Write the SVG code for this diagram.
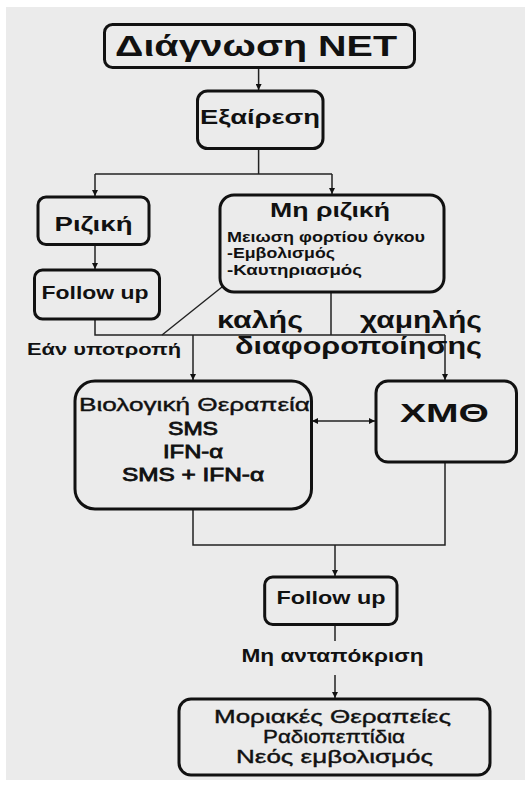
<svg xmlns="http://www.w3.org/2000/svg" width="532" height="787" viewBox="0 0 532 787">
<defs>
<marker id="ah" viewBox="0 0 10 10" refX="10" refY="5" markerWidth="6" markerHeight="6" markerUnits="userSpaceOnUse" orient="auto-start-reverse">
<path d="M0,0 L10,5 L0,10 z" fill="#111"/>
</marker>
<style>
.box{fill:none;stroke:#111;stroke-width:3}
.ln{fill:none;stroke:#222;stroke-width:1.5}
.t{font-family:"Liberation Sans",Arial,sans-serif;fill:#111;font-weight:bold}
.n{font-family:"Liberation Sans",Arial,sans-serif;fill:#111;stroke:#111;stroke-width:0.4}
.m{font-family:"Liberation Sans",Arial,sans-serif;fill:#111;stroke:#111;stroke-width:0.8}
</style>
</defs>
<rect x="0" y="0" width="532" height="787" fill="#ffffff"/>
<rect x="6" y="7" width="519" height="773" fill="#ebebeb"/>

<g id="connectors">
<line class="ln" x1="258.6" y1="67" x2="258.6" y2="90" marker-end="url(#ah)"/>
<polyline class="ln" points="258.6,149 258.6,174"/>
<polyline class="ln" points="95,174 332,174"/>
<line class="ln" x1="95" y1="174" x2="95" y2="196" marker-end="url(#ah)"/>
<line class="ln" x1="332" y1="174" x2="332" y2="194" marker-end="url(#ah)"/>
<line class="ln" x1="95" y1="245" x2="95" y2="269" marker-end="url(#ah)"/>
<polyline class="ln" points="95,319 95,335 445,335"/>
<line class="ln" x1="222" y1="287" x2="162" y2="335"/>
<line class="ln" x1="331" y1="292" x2="331" y2="335"/>
<line class="ln" x1="193" y1="335" x2="193" y2="380" marker-end="url(#ah)"/>
<line class="ln" x1="445" y1="335" x2="445" y2="380" marker-end="url(#ah)"/>
<line class="ln" x1="312" y1="421" x2="375" y2="421" marker-start="url(#ah)" marker-end="url(#ah)"/>
<polyline class="ln" points="193,509 193,545 445,545 445,462"/>
<line class="ln" x1="335" y1="545" x2="335" y2="576" marker-end="url(#ah)"/>
<line class="ln" x1="335" y1="625" x2="335" y2="641"/>
<line class="ln" x1="335" y1="675" x2="335" y2="698" marker-end="url(#ah)"/>
</g>

<g id="n-diagnosis">
<rect class="box" x="104.5" y="24.5" width="310" height="43" rx="8"/>
<text class="t" x="256" y="56" font-size="29" text-anchor="middle" textLength="282" lengthAdjust="spacingAndGlyphs">Διάγνωση NET</text>
</g>

<g id="n-exairesi">
<rect class="box" x="197.5" y="91" width="125.5" height="57.5" rx="10"/>
<text class="t" x="260" y="124" font-size="21" text-anchor="middle" textLength="120" lengthAdjust="spacingAndGlyphs">Εξαίρεση</text>
</g>

<g id="n-riziki">
<rect class="box" x="38" y="197" width="111" height="47.5" rx="8"/>
<text class="t" x="93.5" y="231" font-size="21" text-anchor="middle" textLength="78" lengthAdjust="spacingAndGlyphs">Ριζική</text>
</g>

<g id="n-followup1">
<rect class="box" x="34.5" y="270" width="125" height="49" rx="8"/>
<text class="t" x="95" y="299" font-size="19" text-anchor="middle" textLength="107" lengthAdjust="spacingAndGlyphs">Follow up</text>
</g>

<g id="n-mi-riziki">
<rect class="box" x="220" y="195" width="224" height="97" rx="14"/>
<text class="t" x="330" y="217" font-size="21" text-anchor="middle" textLength="120" lengthAdjust="spacingAndGlyphs">Μη ριζική</text>
<text class="t" x="227" y="242" font-size="14" textLength="198" lengthAdjust="spacingAndGlyphs">Μειωση φορτίου όγκου</text>
<text class="t" x="227" y="258" font-size="14" textLength="108" lengthAdjust="spacingAndGlyphs">-Εμβολισμός</text>
<text class="t" x="227" y="275" font-size="14" textLength="135" lengthAdjust="spacingAndGlyphs">-Καυτηριασμός</text>
</g>

<g id="labels">
<text class="t" x="217" y="328" font-size="23" textLength="86" lengthAdjust="spacingAndGlyphs">καλής</text>
<text class="t" x="360" y="328" font-size="23" textLength="122" lengthAdjust="spacingAndGlyphs">χαμηλής</text>
<text class="t" x="235" y="354" font-size="23" textLength="247" lengthAdjust="spacingAndGlyphs">διαφοροποίησης</text>
<text class="t" x="27" y="355" font-size="16" textLength="154" lengthAdjust="spacingAndGlyphs">Εάν υποτροπή</text>
<text class="t" x="332.5" y="662" font-size="18" text-anchor="middle" textLength="182" lengthAdjust="spacingAndGlyphs">Μη ανταπόκριση</text>
</g>

<g id="n-biologiki">
<rect class="box" x="75" y="381" width="236.5" height="128" rx="20"/>
<text class="n" x="194.5" y="411" font-size="19" text-anchor="middle" textLength="231" lengthAdjust="spacingAndGlyphs">Βιολογική Θεραπεία</text>
<text class="m" x="193" y="435" font-size="18" text-anchor="middle" textLength="50" lengthAdjust="spacingAndGlyphs">SMS</text>
<text class="m" x="193" y="458" font-size="18" text-anchor="middle" textLength="60" lengthAdjust="spacingAndGlyphs">IFN-α</text>
<text class="m" x="193" y="480.5" font-size="18" text-anchor="middle" textLength="142" lengthAdjust="spacingAndGlyphs">SMS + IFN-α</text>
</g>

<g id="n-xmth">
<rect class="box" x="376" y="381" width="140.5" height="81" rx="12"/>
<text class="t" x="444.5" y="422" font-size="26" text-anchor="middle" textLength="89" lengthAdjust="spacingAndGlyphs">ΧΜΘ</text>
</g>

<g id="n-followup2">
<rect class="box" x="264.7" y="577" width="132.3" height="47.5" rx="8"/>
<text class="t" x="331" y="604" font-size="19" text-anchor="middle" textLength="109" lengthAdjust="spacingAndGlyphs">Follow up</text>
</g>

<g id="n-therapies">
<rect class="box" x="179" y="699" width="311" height="76" rx="12"/>
<text class="n" x="332.5" y="723" font-size="19" text-anchor="middle" textLength="237" lengthAdjust="spacingAndGlyphs">Μοριακές Θεραπείες</text>
<text class="n" x="334" y="743" font-size="19" text-anchor="middle" textLength="142" lengthAdjust="spacingAndGlyphs">Ραδιοπεπτίδια</text>
<text class="n" x="334.5" y="763" font-size="19" text-anchor="middle" textLength="197" lengthAdjust="spacingAndGlyphs">Νεός εμβολισμός</text>
</g>
</svg>
